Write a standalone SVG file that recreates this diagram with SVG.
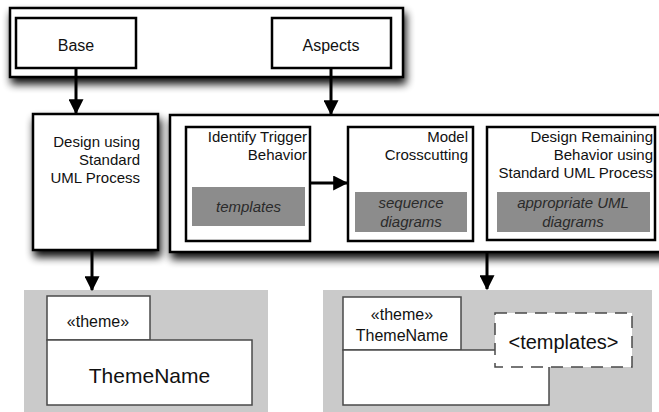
<svg xmlns="http://www.w3.org/2000/svg" width="659" height="412" viewBox="0 0 659 412">
<defs>
<filter id="sh" x="-10%" y="-20%" width="130%" height="160%">
<feGaussianBlur in="SourceAlpha" stdDeviation="4"/>
<feOffset dx="2" dy="6" result="b"/>
<feComponentTransfer><feFuncA type="linear" slope="0.95"/></feComponentTransfer>
<feMerge><feMergeNode/><feMergeNode in="SourceGraphic"/></feMerge>
</filter>
<marker id="ah" markerWidth="5" markerHeight="5" refX="4.6" refY="2.5" orient="auto" markerUnits="strokeWidth">
<path d="M0,0 L5,2.5 L0,5 Z" fill="#000"/>
</marker>
</defs>
<style>
text{font-family:"Liberation Sans",Arial,sans-serif;fill:#111}
.box{fill:#fff;stroke:#000;stroke-width:2.5}
.gbox{fill:#8c8c8c;stroke:none}
.t16{font-size:16px;text-anchor:middle}
.t15r{font-size:15px;text-anchor:end}
.gi{font-size:15px;font-style:italic;text-anchor:middle;fill:#2a2a2a}
.panel{fill:#cacaca}
.uml{fill:#fff;stroke:#4a4a4a;stroke-width:1.5}
.conn{stroke:#000;stroke-width:3;fill:none;marker-end:url(#ah)}
</style>

<g id="top-frame">
<rect class="box" x="10" y="8" width="393" height="69" filter="url(#sh)"/>
</g>
<g id="base">
<rect class="box" x="16" y="18" width="120" height="50"/>
<text class="t16" x="76" y="51">Base</text>
</g>
<g id="aspects">
<rect class="box" x="272" y="18" width="119" height="50"/>
<text class="t16" x="331" y="51">Aspects</text>
</g>

<g id="design-standard">
<rect class="box" x="33" y="114" width="125" height="136" filter="url(#sh)"/>
<text class="t15r" x="140" y="147">Design using</text>
<text class="t15r" x="140" y="165">Standard</text>
<text class="t15r" x="140" y="183">UML Process</text>
</g>

<g id="aspect-process">
<rect class="box" x="170" y="115" width="495" height="137" filter="url(#sh)"/>
</g>
<g id="identify-trigger">
<rect class="box" x="186" y="127" width="124" height="114"/>
<text class="t15r" x="307" y="142">Identify Trigger</text>
<text class="t15r" x="307" y="160">Behavior</text>
<rect class="gbox" x="192" y="187" width="113" height="39"/>
<text class="gi" x="248.5" y="212">templates</text>
</g>
<g id="model-crosscutting">
<rect class="box" x="348" y="127" width="125" height="114"/>
<text class="t15r" x="468" y="142">Model</text>
<text class="t15r" x="468" y="160">Crosscutting</text>
<rect class="gbox" x="355" y="192" width="112" height="40"/>
<text class="gi" x="411" y="208">sequence</text>
<text class="gi" x="411" y="227">diagrams</text>
</g>
<g id="design-remaining">
<rect class="box" x="487" y="127" width="168" height="113"/>
<text class="t15r" x="653" y="142">Design Remaining</text>
<text class="t15r" x="653" y="160">Behavior using</text>
<text class="t15r" x="653" y="178">Standard UML Process</text>
<rect class="gbox" x="497" y="192" width="153" height="40"/>
<text class="gi" x="573" y="208">appropriate UML</text>
<text class="gi" x="573" y="227">diagrams</text>
</g>

<g id="base-theme">
<rect class="panel" x="24" y="290" width="244" height="122"/>
<rect class="uml" x="47" y="296" width="103" height="44"/>
<rect class="uml" x="47" y="340" width="205" height="65"/>
<text class="t16" x="98" y="327">«theme»</text>
<text x="149.5" y="383" style="font-size:21px;text-anchor:middle">ThemeName</text>
</g>

<g id="aspect-theme">
<rect class="panel" x="323" y="290" width="329" height="122"/>
<rect class="uml" x="343" y="297" width="118" height="53"/>
<rect class="uml" x="343" y="350" width="206" height="55"/>
<rect x="495" y="313" width="137" height="54" fill="#fff" stroke="#4a4a4a" stroke-width="1.5" stroke-dasharray="12,8"/>
<text class="t16" x="402" y="320">«theme»</text>
<text class="t16" x="402" y="341">ThemeName</text>
<text x="563.5" y="349" style="font-size:20px;text-anchor:middle">&lt;templates&gt;</text>
</g>

<g id="connectors">
<line class="conn" x1="76" y1="68" x2="76" y2="113"/>
<line class="conn" x1="331" y1="68" x2="331" y2="114"/>
<line class="conn" x1="310" y1="183" x2="347" y2="183"/>
<line class="conn" x1="92" y1="251" x2="92" y2="290"/>
<line class="conn" x1="487" y1="253" x2="487" y2="289"/>
</g>
</svg>
